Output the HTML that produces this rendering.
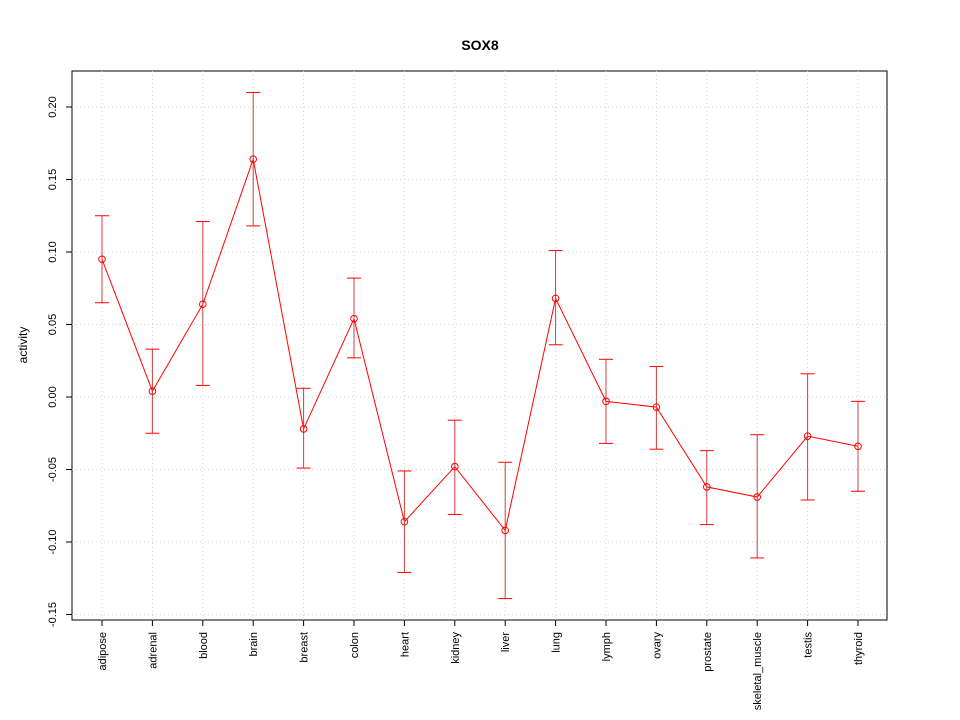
<!DOCTYPE html>
<html><head><meta charset="utf-8"><style>body{margin:0;background:#fff}svg{display:block}</style></head>
<body>
<svg id="chart" width="960" height="720" xmlns="http://www.w3.org/2000/svg" font-family="Liberation Sans, sans-serif">
<text x="480" y="50" text-anchor="middle" font-size="14" font-weight="bold">SOX8</text>
<text transform="translate(27,345) rotate(-90)" text-anchor="middle" font-size="12">activity</text>
<rect x="72" y="71" width="815" height="549" fill="none" stroke="#000"/>
<g id="grid"></g><g id="axes"></g><g id="marks"></g>
</svg>
<script>
const categories=["adipose","adrenal","blood","brain","breast","colon","heart","kidney","liver","lung","lymph","ovary","prostate","skeletal_muscle","testis","thyroid"];
const values=[0.095,0.004,0.064,0.164,-0.022,0.054,-0.086,-0.048,-0.092,0.068,-0.003,-0.007,-0.062,-0.069,-0.027,-0.034];
const upper=[0.125,0.033,0.121,0.210,0.006,0.082,-0.051,-0.016,-0.045,0.101,0.026,0.021,-0.037,-0.026,0.016,-0.003];
const lower=[0.065,-0.025,0.008,0.118,-0.049,0.027,-0.121,-0.081,-0.139,0.036,-0.032,-0.036,-0.088,-0.111,-0.071,-0.065];
const yTicks=[-0.15,-0.10,-0.05,0.00,0.05,0.10,0.15,0.20];
const NS="http://www.w3.org/2000/svg";
const xs=i=>102+i*(858-102)/(categories.length-1);
const ys=v=>397-v*1450;
function mk(parent,tag,attrs){const e=document.createElementNS(NS,tag);for(const k in attrs)e.setAttribute(k,attrs[k]);document.getElementById(parent).appendChild(e);return e;}
yTicks.forEach(t=>{
 let g=mk('grid','line',{x1:72,x2:887,y1:ys(t),y2:ys(t),stroke:'#d3d3d3','stroke-dasharray':'1,3'});
 
 
 let k=mk('axes','line',{x1:66,x2:72,y1:ys(t),y2:ys(t),stroke:'#000'});
 
 
 let l=mk('axes','text',{transform:`translate(56,${ys(t)}) rotate(-90)`,'text-anchor':'middle','font-size':'11'});
 l.textContent=t.toFixed(2);
 
 
});
categories.forEach((c,i)=>{
 const x=xs(i);
 let g=mk('grid','line',{x1:x,x2:x,y1:71,y2:620,stroke:'#d3d3d3','stroke-dasharray':'1,3'});
 
 
 let k=mk('axes','line',{x1:x,x2:x,y1:620,y2:626,stroke:'#000'});
 
 
 let l=mk('axes','text',{transform:`translate(${x+4},632) rotate(-90)`,'text-anchor':'end','font-size':'11'});
 l.textContent=c;
 
 
});
let pts=values.map((v,i)=>xs(i)+','+ys(v)).join(' ');
let line=mk('marks','polyline',{points:pts,fill:'none',stroke:'#ff0000','stroke-width':1});


values.forEach((v,i)=>{
 const x=xs(i);
 let e=mk('marks','line',{x1:x,x2:x,y1:ys(upper[i]),y2:ys(lower[i]),stroke:'#d04040'});
 
 
 [upper[i],lower[i]].forEach(b=>{
  let cap=mk('marks','line',{x1:x-7,x2:x+7,y1:ys(b),y2:ys(b),stroke:'#ff0000'});
  
  
 });
 let p=mk('marks','circle',{cx:x,cy:ys(v),r:3.3,fill:'none',stroke:'#ff0000'});
 
 
});
</script>
</body></html>
